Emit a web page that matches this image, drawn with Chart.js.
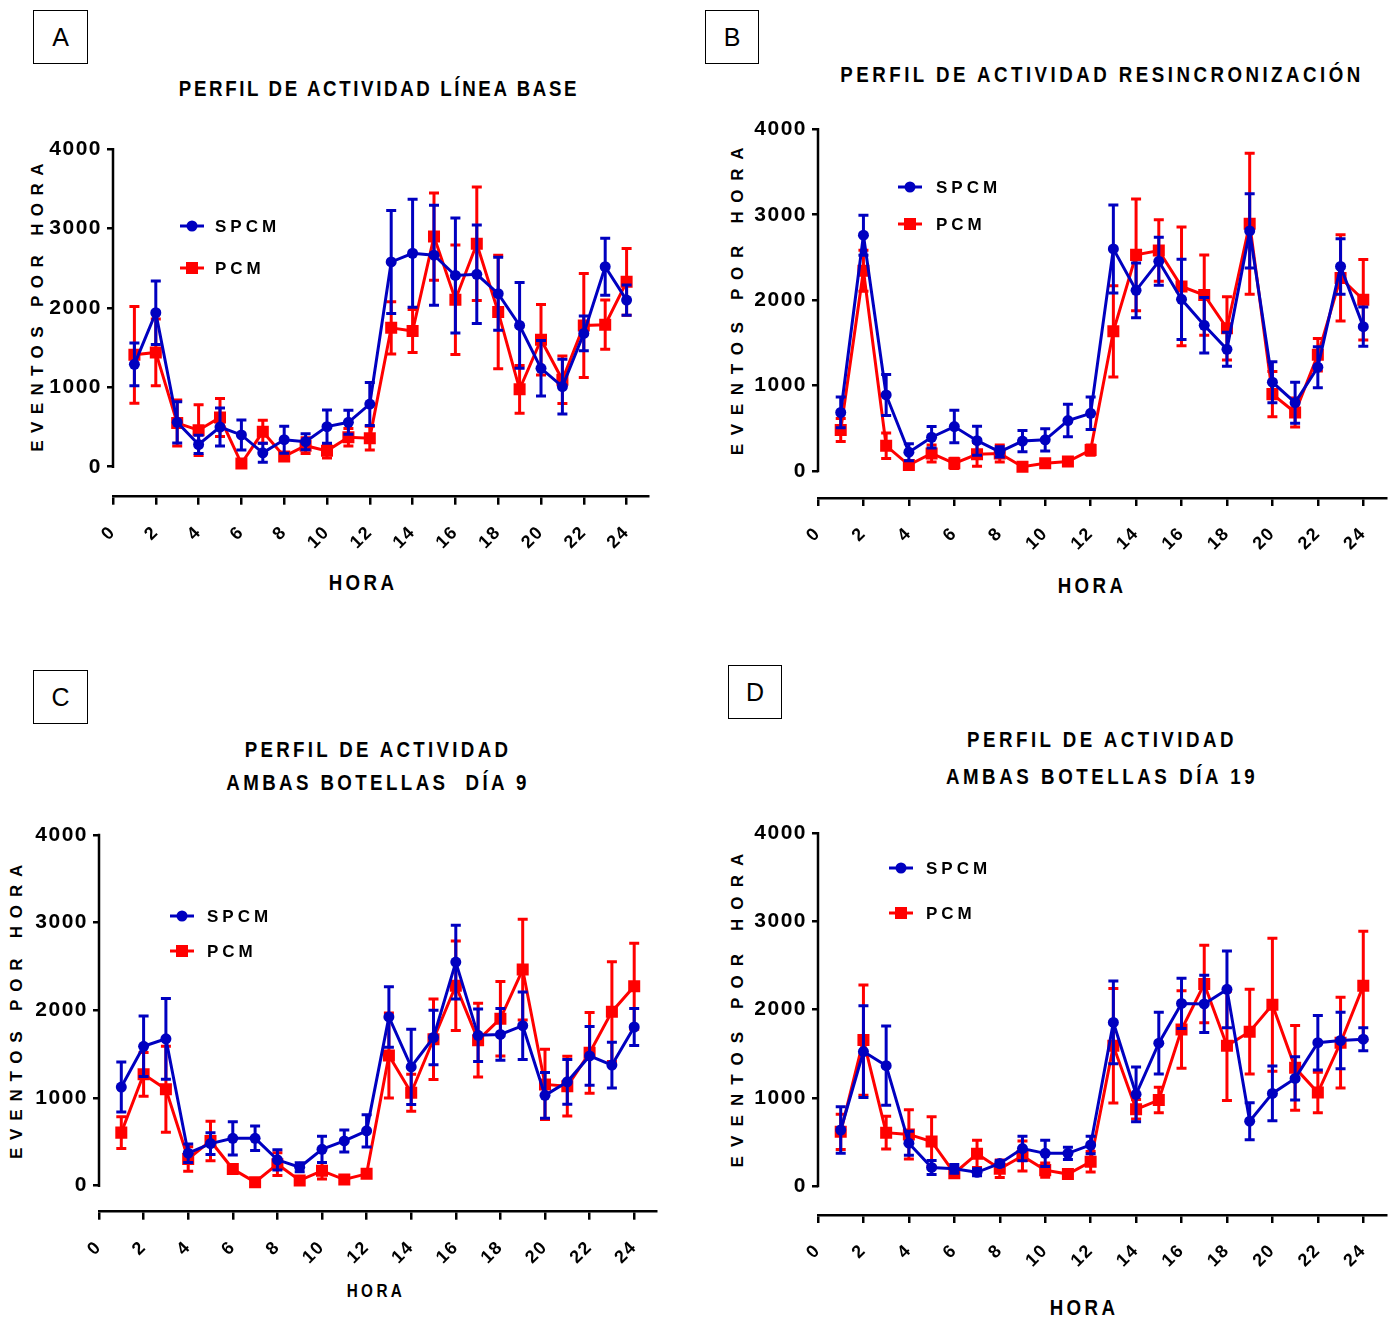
<!DOCTYPE html>
<html>
<head>
<meta charset="utf-8">
<script src="https://cdn.jsdelivr.net/npm/chart.js@4.4.1/dist/chart.umd.min.js"></script>
<style>
  body { margin: 0; width: 1396px; height: 1319px; background: #fff; position: relative; overflow: hidden;
         font-family: "Liberation Sans Narrow", "Liberation Sans", Arial, sans-serif; color: #000; }
  canvas { position: absolute; }
  .box { position: absolute; border: 1.5px solid #000; box-sizing: border-box; font: 25px "Liberation Sans", Arial, sans-serif;
         display: flex; align-items: center; justify-content: center; }
  .t { position: absolute; font-weight: bold; white-space: pre; }
  .title { font-size: 22px; transform: translate(-50%, -50%) scaleX(0.85); }
  .ytitle { font-size: 17px; transform: translate(-50%, -50%) rotate(-90deg); }
  .xtitle { font-size: 22px; letter-spacing: 4px; transform: translate(-50%, -50%) scaleX(0.85); }
</style>
</head>
<body>
<script>
// horas y ejes
const hours = [1, 2, 3, 4, 5, 6, 7, 8, 9, 10, 11, 12, 13, 14, 15, 16, 17, 18, 19, 20, 21, 22, 23, 24];
const xTicks = [0, 2, 4, 6, 8, 10, 12, 14, 16, 18, 20, 22, 24];
const yTicks = [0, 1000, 2000, 3000, 4000];
const seriesNames = ["SPCM", "PCM"];

// A - linea base
const aSpcm = [1290, 1940, 560, 280, 500, 400, 175, 340, 315, 505, 560, 790, 2580, 2690, 2665, 2410, 2425, 2180, 1780, 1240, 1010, 1680, 2520, 2100];
const aSpcmErr = [270, 400, 260, 115, 240, 190, 120, 170, 100, 210, 150, 270, 650, 680, 630, 725, 620, 460, 540, 350, 345, 220, 360, 190];
const aPcm = [1410, 1440, 550, 460, 620, 40, 440, 130, 265, 200, 370, 360, 1750, 1710, 2900, 2105, 2810, 1950, 975, 1600, 1095, 1780, 1790, 2330];
const aPcmErr = [610, 420, 290, 320, 240, 40, 145, 50, 100, 90, 110, 150, 330, 270, 550, 690, 715, 715, 300, 445, 300, 655, 310, 420];

// B - resincronizacion
const bSpcm = [685, 2760, 890, 220, 395, 520, 355, 225, 350, 365, 590, 675, 2600, 2115, 2455, 2010, 1705, 1425, 2810, 1040, 800, 1215, 2395, 1690];
const bSpcmErr = [180, 235, 240, 100, 125, 190, 170, 60, 125, 130, 190, 190, 515, 320, 280, 470, 325, 200, 435, 240, 240, 240, 325, 230];
const bPcm = [480, 2345, 295, 70, 205, 90, 195, 205, 50, 90, 110, 245, 1635, 2530, 2580, 2160, 2060, 1670, 2895, 900, 685, 1360, 2260, 2005];
const bPcmErr = [135, 240, 150, 50, 100, 60, 140, 100, 40, 40, 40, 60, 535, 655, 360, 695, 470, 370, 825, 265, 170, 190, 505, 470];

// C - ambas botellas dia 9
const cSpcm = [1125, 1590, 1675, 370, 480, 540, 540, 295, 210, 415, 510, 625, 1925, 1355, 1690, 2550, 1715, 1725, 1825, 1030, 1185, 1480, 1375, 1810];
const cSpcmErr = [285, 345, 460, 105, 125, 190, 140, 115, 50, 150, 125, 185, 345, 430, 310, 420, 300, 295, 385, 260, 255, 335, 260, 210];
const cPcm = [605, 1270, 1100, 305, 510, 190, 40, 245, 60, 170, 70, 135, 1485, 1060, 1670, 2280, 1660, 1905, 2465, 1155, 1135, 1515, 1985, 2275];
const cPcmErr = [180, 250, 490, 140, 225, 40, 30, 130, 40, 95, 30, 40, 485, 210, 460, 510, 420, 425, 575, 400, 340, 460, 570, 490];

// D - ambas botellas dia 19
const dSpcm = [635, 1525, 1365, 485, 210, 195, 155, 255, 425, 370, 370, 465, 1855, 1040, 1620, 2070, 2065, 2230, 735, 1050, 1220, 1625, 1650, 1665];
const dSpcmErr = [265, 520, 450, 135, 80, 50, 40, 30, 140, 150, 70, 100, 470, 310, 350, 285, 325, 435, 210, 310, 245, 310, 320, 130];
const dPcm = [615, 1655, 605, 585, 505, 145, 365, 195, 340, 180, 135, 275, 1590, 870, 975, 1775, 2290, 1590, 1750, 2055, 1340, 1060, 1625, 2270];
const dPcmErr = [200, 625, 185, 280, 280, 40, 155, 100, 170, 80, 40, 115, 650, 110, 145, 440, 440, 620, 480, 755, 480, 230, 515, 620];

const FONT = '"Liberation Sans Narrow", "Liberation Sans", Arial, sans-serif';
const BLUE = "#0000C0";
const RED = "#FF0000";

const panels = [
  {
    letter: "A", box: [33, 10, 55, 54],
    titles: [["PERFIL DE ACTIVIDAD LÍNEA BASE", 379, 89, 3.1]],
    yTitle: [38, 304, 7.4], xTitle: [363, 583, 22],
    canvas: [0, 120, 680, 450], area: { left: 113, top: 149.3, right: 648, bottom: 496.7 }, yMin: -378,
    legend: { x: 192, tx: 215, ys: [226, 268] },
    spcm: aSpcm, spcmErr: aSpcmErr, pcm: aPcm, pcmErr: aPcmErr,
  },
  {
    letter: "B", box: [705, 10, 54, 54],
    titles: [["PERFIL DE ACTIVIDAD RESINCRONIZACIÓN", 1102, 75, 4.1]],
    yTitle: [738, 297, 8.7], xTitle: [1092, 586, 22],
    canvas: [700, 105, 696, 470], area: { left: 818, top: 129.3, right: 1386, bottom: 498 }, yMin: -316,
    legend: { x: 910, tx: 936, ys: [187, 224] },
    spcm: bSpcm, spcmErr: bSpcmErr, pcm: bPcm, pcmErr: bPcmErr,
  },
  {
    letter: "C", box: [33, 670, 55, 54],
    titles: [["PERFIL DE ACTIVIDAD", 378, 750, 3.9], ["AMBAS BOTELLAS  DÍA 9", 378, 783, 4.0]],
    yTitle: [17, 1008, 7.8], xTitle: [376, 1291, 18],
    canvas: [0, 810, 680, 470], area: { left: 99, top: 835, right: 656.5, bottom: 1211.7 }, yMin: -297,
    legend: { x: 182, tx: 207, ys: [916, 951] },
    spcm: cSpcm, spcmErr: cSpcmErr, pcm: cPcm, pcmErr: cPcmErr,
  },
  {
    letter: "D", box: [728, 665, 54, 54],
    titles: [["PERFIL DE ACTIVIDAD", 1102, 740, 4.1], ["AMBAS BOTELLAS DÍA 19", 1102, 777, 4.2]],
    yTitle: [738, 1006, 9.1], xTitle: [1084, 1308, 22],
    canvas: [700, 810, 696, 480], area: { left: 818, top: 833.3, right: 1386, bottom: 1215 }, yMin: -329,
    legend: { x: 901, tx: 926, ys: [868, 913] },
    spcm: dSpcm, spcmErr: dSpcmErr, pcm: dPcm, pcmErr: dPcmErr,
  },
];

// barras de error (media +/- error), dibujadas antes de cada serie
const errorBars = {
  id: "errorBars",
  beforeDatasetDraw(chart, args) {
    const ds = chart.data.datasets[args.index];
    const y = chart.scales.y;
    const ctx = chart.ctx;
    ctx.save();
    ctx.strokeStyle = ds.borderColor;
    ctx.lineWidth = 3;
    args.meta.data.forEach((pt, i) => {
      const v = ds.data[i].y;
      const e = ds.errors[i];
      const top = y.getPixelForValue(v + e);
      const bot = y.getPixelForValue(v - e);
      ctx.beginPath();
      ctx.moveTo(pt.x, top);
      ctx.lineTo(pt.x, bot);
      ctx.moveTo(pt.x - 5, top);
      ctx.lineTo(pt.x + 5, top);
      ctx.moveTo(pt.x - 5, bot);
      ctx.lineTo(pt.x + 5, bot);
      ctx.stroke();
    });
    ctx.restore();
  },
};

// eje Y solo de 0 a 4000, como en Prism
const yAxisLine = {
  id: "yAxisLine",
  beforeDatasetsDraw(chart) {
    const y = chart.scales.y;
    const ctx = chart.ctx;
    const x = chart.chartArea.left;
    ctx.save();
    ctx.strokeStyle = "#000";
    ctx.lineWidth = 2.5;
    ctx.beginPath();
    ctx.moveTo(x, y.getPixelForValue(yTicks[0]) + 1.25);
    ctx.lineTo(x, y.getPixelForValue(yTicks[yTicks.length - 1]) - 1.25);
    ctx.stroke();
    ctx.restore();
  },
};

const spacing = {
  id: "spacing",
  beforeDraw(chart) {
    chart.ctx.letterSpacing = "1.5px";
  },
};

const insideLegend = {
  id: "insideLegend",
  afterDatasetsDraw(chart, args, opts) {
    const ctx = chart.ctx;
    chart.data.datasets.forEach((ds, i) => {
      const x = opts.x;
      const y = opts.ys[i];
      ctx.save();
      ctx.strokeStyle = ds.borderColor;
      ctx.fillStyle = ds.backgroundColor;
      ctx.lineWidth = 3;
      ctx.beginPath();
      ctx.moveTo(x - 12, y);
      ctx.lineTo(x + 12, y);
      ctx.stroke();
      if (ds.pointStyle === "rect") {
        ctx.fillRect(x - 6, y - 6, 12, 12);
      } else {
        ctx.beginPath();
        ctx.arc(x, y, 5.5, 0, Math.PI * 2);
        ctx.fill();
      }
      ctx.fillStyle = "#000";
      ctx.font = "bold 17px " + FONT;
      ctx.letterSpacing = "4px";
      ctx.textBaseline = "middle";
      ctx.fillText(ds.label, opts.tx, y + 1);
      ctx.restore();
    });
  },
};

function addText(cls, text, x, y, size, ls) {
  const d = document.createElement("div");
  d.className = "t " + cls;
  d.textContent = text;
  d.style.left = x + "px";
  d.style.top = y + "px";
  if (size) d.style.fontSize = size + "px";
  if (ls) d.style.letterSpacing = ls + "px";
  document.body.appendChild(d);
}

function series(vals) {
  return hours.map((h, i) => ({ x: h, y: vals[i] }));
}

panels.forEach((p) => {
  const b = document.createElement("div");
  b.className = "box";
  b.textContent = p.letter;
  b.style.left = p.box[0] + "px";
  b.style.top = p.box[1] + "px";
  b.style.width = p.box[2] + "px";
  b.style.height = p.box[3] + "px";
  document.body.appendChild(b);

  p.titles.forEach((t) => addText("title", t[0], t[1], t[2], null, t[3]));
  addText("ytitle", "EVENTOS POR HORA", p.yTitle[0], p.yTitle[1], null, p.yTitle[2]);
  addText("xtitle", "HORA", p.xTitle[0], p.xTitle[1], p.xTitle[2]);

  const [cl, ct, cw, ch] = p.canvas;
  const cv = document.createElement("canvas");
  cv.width = cw;
  cv.height = ch;
  cv.style.left = cl + "px";
  cv.style.top = ct + "px";
  document.body.appendChild(cv);

  new Chart(cv.getContext("2d"), {
    type: "line",
    data: {
      datasets: [
        {
          label: seriesNames[0], data: series(p.spcm), errors: p.spcmErr,
          borderColor: BLUE, backgroundColor: BLUE, borderWidth: 3,
          pointStyle: "circle", pointRadius: 5.5, pointBorderWidth: 0, tension: 0,
        },
        {
          label: seriesNames[1], data: series(p.pcm), errors: p.pcmErr,
          borderColor: RED, backgroundColor: RED, borderWidth: 3,
          pointStyle: "rect", pointRadius: 8.5, pointBorderWidth: 0, tension: 0,
        },
      ],
    },
    options: {
      responsive: false,
      animation: false,
      devicePixelRatio: 1,
      layout: {
        padding: { left: 0, top: p.area.top - ct, right: cl + cw - p.area.right, bottom: 0 },
      },
      plugins: {
        legend: { display: false },
        tooltip: { enabled: false },
        insideLegend: { x: p.legend.x - cl, tx: p.legend.tx - cl, ys: p.legend.ys.map((v) => v - ct) },
      },
      scales: {
        x: {
          type: "linear", min: 0, max: 25,
          afterBuildTicks: (s) => { s.ticks = xTicks.map((v) => ({ value: v })); },
          afterFit: (s) => { s.height = ct + ch - p.area.bottom; },
          border: { display: true, color: "#000", width: 2.5 },
          grid: { drawOnChartArea: false, drawTicks: true, tickLength: 8, color: "#000", lineWidth: 2.5 },
          ticks: { minRotation: 45, maxRotation: 45, padding: 17, color: "#000", font: { family: FONT, size: 18, weight: "bold" } },
        },
        y: {
          min: p.yMin, max: 4000,
          afterBuildTicks: (s) => { s.ticks = yTicks.map((v) => ({ value: v })); },
          afterFit: (s) => { s.width = p.area.left - cl; },
          border: { display: false },
          grid: { drawOnChartArea: false, drawTicks: true, tickLength: 6, color: "#000", lineWidth: 2.5 },
          ticks: { padding: 5, color: "#000", font: { family: FONT, size: 21, weight: "bold" }, callback: (v) => String(v) },
        },
      },
    },
    plugins: [spacing, yAxisLine, errorBars, insideLegend],
  });
});
</script>
</body>
</html>
